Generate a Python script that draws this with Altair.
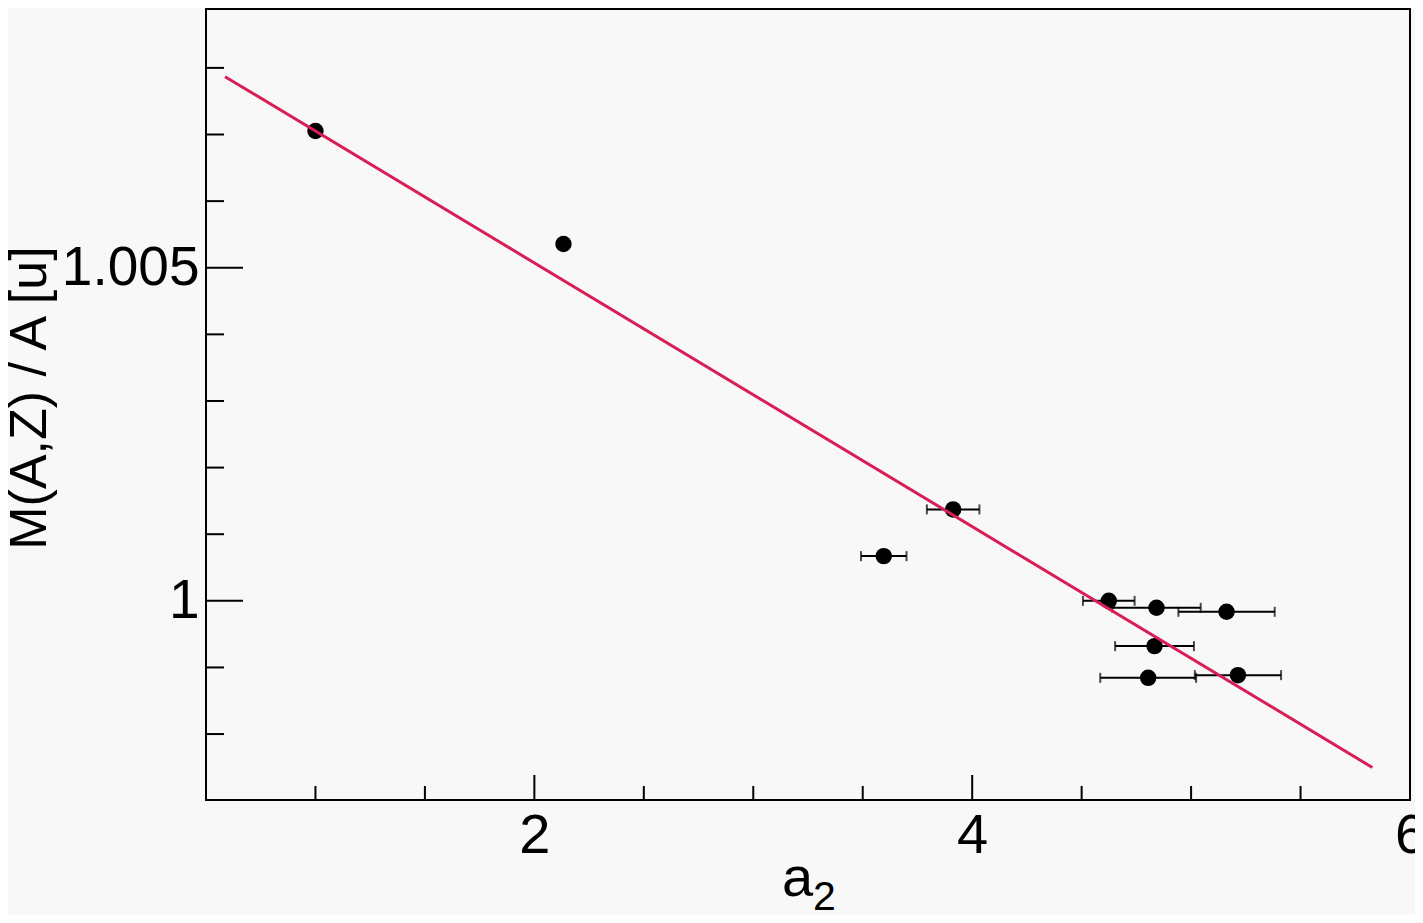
import altair as alt
import pandas as pd

# measured points (a2, M/A) with horizontal errors
a2 = [1.000, 2.133, 3.596, 3.913, 4.624, 4.842, 5.162, 4.833, 4.804, 5.214]
m_over_a = [1.007053, 1.005356, 1.000671, 1.001372, 1.000000,
            0.999895, 0.999835, 0.999320, 0.998844, 0.998884]
a2_err = [0.000, 0.012, 0.104, 0.120, 0.118, 0.202, 0.220, 0.180, 0.219, 0.197]

# straight-line fit, end points
fit_x = [0.587, 5.828]
fit_y = [1.007868, 0.997498]

x_major = [2, 4, 6]
x_minor = [1.0, 1.5, 2.5, 3.0, 3.5, 4.5, 5.0, 5.5]
y_major = [1.000, 1.005]
y_minor = [0.998, 0.999, 1.001, 1.002, 1.003, 1.004, 1.006, 1.007, 1.008]

FONT = "Liberation Sans"
W, H = 1204, 791
x_scale = alt.Scale(domain=[0.5, 6.0], nice=False, zero=False)
y_scale = alt.Scale(domain=[0.99701, 1.008884], nice=False, zero=False)

pts = pd.DataFrame({"a2": a2, "m": m_over_a, "err": a2_err})
pts["lo"] = pts["a2"] - pts["err"]
pts["hi"] = pts["a2"] + pts["err"]
fit = pd.DataFrame({"a2": fit_x, "m": fit_y})

x_axis = alt.Axis(values=x_major, format="d", ticks=False, tickSize=0, domain=False,
                  grid=False, labelFontSize=56, labelFont=FONT, labelColor="black",
                  labelPadding=8, title=None, labelFlush=False)
y_axis = alt.Axis(values=y_major, format=".3~f", ticks=False, tickSize=0, domain=False,
                  grid=False, labelFontSize=55, labelFont=FONT, labelColor="black",
                  labelPadding=7, title=None, labelFlush=False)

base = alt.Chart(pts)

bars = base.mark_rule(color="black", strokeWidth=2).encode(
    x=alt.X("lo:Q", scale=x_scale, axis=x_axis),
    x2="hi:Q",
    y=alt.Y("m:Q", scale=y_scale, axis=y_axis),
)
caps_lo = base.mark_tick(orient="vertical", size=10, thickness=2, color="black").encode(
    x=alt.X("lo:Q", scale=x_scale), y=alt.Y("m:Q", scale=y_scale)
)
caps_hi = base.mark_tick(orient="vertical", size=10, thickness=2, color="black").encode(
    x=alt.X("hi:Q", scale=x_scale), y=alt.Y("m:Q", scale=y_scale)
)
dots = base.mark_circle(size=270, color="black", opacity=1).encode(
    x=alt.X("a2:Q", scale=x_scale), y=alt.Y("m:Q", scale=y_scale)
)
line = alt.Chart(fit).mark_line(color="#d81e56", strokeWidth=3).encode(
    x=alt.X("a2:Q", scale=x_scale), y=alt.Y("m:Q", scale=y_scale)
)


def xticks(vals, length):
    return alt.Chart(pd.DataFrame({"v": vals})).mark_rule(color="black", strokeWidth=2).encode(
        x=alt.X("v:Q", scale=x_scale), y=alt.value(H), y2=alt.value(H - length)
    )


def yticks(vals, length):
    return alt.Chart(pd.DataFrame({"v": vals})).mark_rule(color="black", strokeWidth=2).encode(
        y=alt.Y("v:Q", scale=y_scale), x=alt.value(0), x2=alt.value(length)
    )


ytitle = alt.Chart(pd.DataFrame({"t": ["M(A,Z) / A [u]"]})).mark_text(
    font=FONT, fontSize=52, angle=270, align="center", baseline="alphabetic", color="black"
).encode(text="t:N", x=alt.value(-160), y=alt.value(389))

xtitle = alt.Chart(pd.DataFrame({"t": ["a"]})).mark_text(
    font=FONT, fontSize=56, align="left", baseline="alphabetic", color="black"
).encode(text="t:N", x=alt.value(576), y=alt.value(887))

xsub = alt.Chart(pd.DataFrame({"t": ["2"]})).mark_text(
    font=FONT, fontSize=41, align="left", baseline="alphabetic", color="black"
).encode(text="t:N", x=alt.value(607), y=alt.value(901))

chart = (
    alt.layer(
        bars, caps_lo, caps_hi, dots, line,
        xticks(x_major, 25), xticks(x_minor, 14),
        yticks(y_major, 37), yticks(y_minor, 18),
        ytitle, xtitle, xsub,
    )
    .properties(
        width=W, height=H, autosize="none",
        padding={"left": 198, "top": 1, "right": 5, "bottom": 115},
        background="#f8f8f8",
    )
    .configure_view(stroke="black", strokeWidth=2)
)

chart.save("out.html", embed_options={"renderer": "svg", "actions": False})
